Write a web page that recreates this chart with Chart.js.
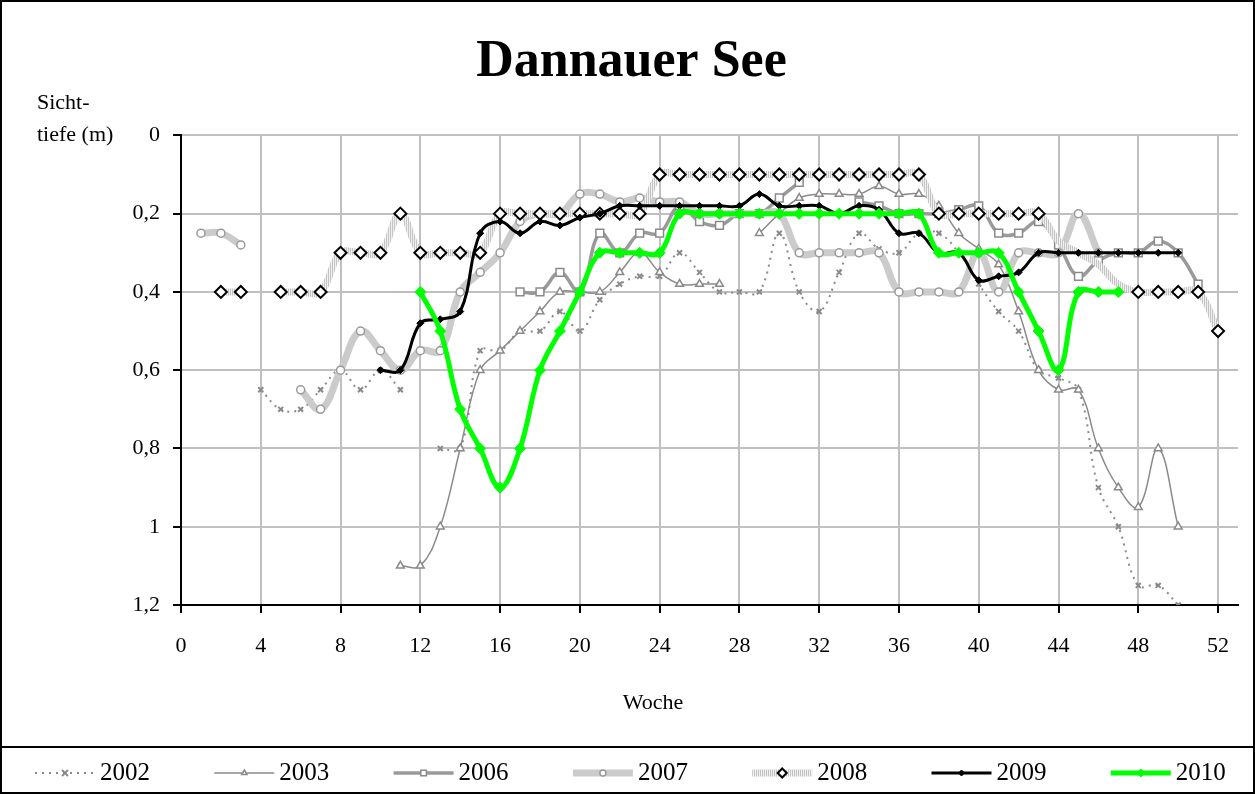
<!DOCTYPE html>
<html>
<head>
<meta charset="utf-8">
<title>Dannauer See</title>
<script src="https://cdn.jsdelivr.net/npm/chart.js@4"></script>
<style>
  html, body { margin: 0; padding: 0; background: #fff; }
</style>
</head>
<body>
<canvas id="chart" width="1255" height="794"></canvas>
<script>
// Sichttiefe (m) per calendar week, index 0 = week 1, null = no measurement
var weeks = Array.from({ length: 52 }, function (_, i) { return i + 1; });
var years = ['2002', '2003', '2006', '2007', '2008', '2009', '2010'];

var d2002 = [null, null, null, 0.65, 0.7, 0.7, 0.65, 0.6, 0.65, 0.6,
             0.65, null, 0.8, 0.8, 0.55, 0.55, 0.5, 0.5, 0.45, 0.5,
             0.42, 0.38, 0.36, 0.36, 0.3, 0.35, 0.4, 0.4, 0.4, 0.25,
             0.4, 0.45, 0.35, 0.25, 0.29, 0.3, 0.25, 0.25, 0.3, 0.38,
             0.45, 0.5, 0.6, 0.62, 0.65, 0.9, 1.0, 1.15, 1.15, 1.2,
             null, null];
var d2003 = [null, null, null, null, null, null, null, null, null, null,
             1.1, 1.1, 1.0, 0.8, 0.6, 0.55, 0.5, 0.45, 0.4, 0.4,
             0.4, 0.35, 0.3, 0.35, 0.38, 0.38, 0.38, null, 0.25, 0.2,
             0.16, 0.15, 0.15, 0.15, 0.13, 0.15, 0.15, 0.18, 0.25, 0.29,
             0.33, 0.45, 0.6, 0.65, 0.65, 0.8, 0.9, 0.95, 0.8, 1.0,
             null, null];
var d2006 = [null, null, null, null, null, null, null, null, null, null,
             null, null, null, null, null, null, 0.4, 0.4, 0.35, 0.4,
             0.25, 0.3, 0.25, 0.25, 0.18, 0.22, 0.23, 0.2, 0.2, 0.16,
             0.12, null, null, 0.17, 0.18, 0.2, 0.2, 0.2, 0.19, 0.18,
             0.25, 0.25, 0.22, 0.28, 0.36, 0.32, 0.3, 0.3, 0.27, 0.3,
             0.38, null];
var d2007 = [0.25, 0.25, 0.28, null, null, 0.65, 0.7, 0.6, 0.5, 0.55,
             0.6, 0.55, 0.55, 0.4, 0.35, 0.3, 0.22, 0.2, 0.2, 0.15,
             0.15, 0.17, 0.16, 0.17, 0.17, 0.2, 0.2, 0.2, 0.2, 0.2,
             0.3, 0.3, 0.3, 0.3, 0.3, 0.4, 0.4, 0.4, 0.4, 0.3,
             0.4, 0.3, 0.3, 0.3, 0.2, 0.3, null, null, null, null,
             null, null];
var d2008 = [null, 0.4, 0.4, null, 0.4, 0.4, 0.4, 0.3, 0.3, 0.3,
             0.2, 0.3, 0.3, 0.3, 0.3, 0.2, 0.2, 0.2, 0.2, 0.2,
             0.2, 0.2, 0.2, 0.1, 0.1, 0.1, 0.1, 0.1, 0.1, 0.1,
             0.1, 0.1, 0.1, 0.1, 0.1, 0.1, 0.1, 0.2, 0.2, 0.2,
             0.2, 0.2, 0.2, 0.27, 0.3, 0.33, 0.38, 0.4, 0.4, 0.4,
             0.4, 0.5];
var d2009 = [null, null, null, null, null, null, null, null, null, 0.6,
             0.6, 0.48, 0.47, 0.45, 0.25, 0.22, 0.25, 0.22, 0.23, 0.21,
             0.2, 0.18, 0.18, 0.18, 0.18, 0.18, 0.18, 0.18, 0.15, 0.18,
             0.18, 0.18, 0.2, 0.18, 0.19, 0.25, 0.25, 0.3, 0.3, 0.37,
             0.36, 0.35, 0.3, 0.3, 0.3, 0.3, 0.3, 0.3, 0.3, 0.3,
             null, null];
var d2010 = [null, null, null, null, null, null, null, null, null, null,
             null, 0.4, 0.5, 0.7, 0.8, 0.9, 0.8, 0.6, 0.5, 0.4,
             0.3, 0.3, 0.3, 0.3, 0.2, 0.2, 0.2, 0.2, 0.2, 0.2,
             0.2, 0.2, 0.2, 0.2, 0.2, 0.2, 0.2, 0.3, 0.3, 0.3,
             0.3, 0.4, 0.5, 0.6, 0.4, 0.4, 0.4, null, null, null,
             null, null];
// weeks of 2008 that are only bridged by the line, no marker shown
var unmarked2008 = [44, 45, 46, 47];

var weekTicks = [0, 4, 8, 12, 16, 20, 24, 28, 32, 36, 40, 44, 48, 52];
var depthTicks = [0, 0.2, 0.4, 0.6, 0.8, 1, 1.2];
var depthLabels = ['0', '0,2', '0,4', '0,6', '0,8', '1', '1,2'];

var serif = '"Liberation Serif", "Times New Roman", serif';

function points(values) {
	return values.map(function (v, i) { return { x: weeks[i], y: v }; });
}

// light grey line with fine vertical stripes (2008)
function hatchPattern() {
	var c = document.createElement('canvas');
	c.width = 2; c.height = 2;
	var g = c.getContext('2d');
	g.fillStyle = '#f0f0f0'; g.fillRect(0, 0, 2, 2);
	g.fillStyle = '#c4c4c4'; g.fillRect(0, 0, 1, 2);
	return g.createPattern(c, 'repeat');
}
var hatch = hatchPattern();

var series = [d2002, d2003, d2006, d2007, d2008, d2009, d2010];
var styles = [
	{ color: '#8a8a8a', width: 2, dash: [2, 5], marker: 'crossRot', radius: 3.5, fill: '#8a8a8a', edge: '#8a8a8a', edgeWidth: 2 },
	{ color: '#8a8a8a', width: 1.5, dash: [], marker: 'triangle', radius: 4.5, fill: '#ffffff', edge: '#8a8a8a', edgeWidth: 1.5 },
	{ color: '#9a9a9a', width: 3.5, dash: [], marker: 'rect', radius: 5.5, fill: '#ffffff', edge: '#8a8a8a', edgeWidth: 1.5 },
	{ color: '#cbcbcb', width: 7, dash: [], marker: 'circle', radius: 4, fill: '#ffffff', edge: '#9a9a9a', edgeWidth: 1.5 },
	{ color: hatch, width: 7, dash: [], marker: 'rectRot', radius: 6, fill: '#ffffff', edge: '#000000', edgeWidth: 2 },
	{ color: '#000000', width: 3, dash: [], marker: 'rectRot', radius: 3.5, fill: '#000000', edge: '#000000', edgeWidth: 1 },
	{ color: '#00ff00', width: 5, dash: [], marker: 'rectRot', radius: 5.5, fill: '#00ff00', edge: '#00ff00', edgeWidth: 1 }
];

var datasets = series.map(function (values, i) {
	var s = styles[i];
	return {
		label: years[i],
		data: points(values),
		borderColor: s.color,
		borderWidth: s.width,
		borderDash: s.dash,
		pointStyle: s.marker,
		pointRadius: function (c) {
			if (years[i] === '2008' && c.raw && unmarked2008.indexOf(c.raw.x) >= 0) return 0;
			return s.radius;
		},
		pointBackgroundColor: s.fill,
		pointBorderColor: s.edge,
		pointBorderWidth: s.edgeWidth,
		tension: 0.4,
		spanGaps: false,
		fill: false,
		order: years.length - i
	};
});

function drawMarker(c, s, x, y, r) {
	c.save();
	c.fillStyle = s.fill;
	c.strokeStyle = s.edge;
	c.lineWidth = s.edgeWidth;
	c.setLineDash([]);
	c.beginPath();
	if (s.marker === 'crossRot') {
		c.moveTo(x - r, y - r); c.lineTo(x + r, y + r);
		c.moveTo(x - r, y + r); c.lineTo(x + r, y - r);
		c.stroke();
	} else {
		if (s.marker === 'circle') {
			c.arc(x, y, r, 0, Math.PI * 2);
		} else if (s.marker === 'triangle') {
			c.moveTo(x, y - r); c.lineTo(x + r * 0.87, y + r * 0.5); c.lineTo(x - r * 0.87, y + r * 0.5);
		} else if (s.marker === 'rect') {
			c.rect(x - r * 0.7, y - r * 0.7, r * 1.4, r * 1.4);
		} else {
			c.moveTo(x, y - r); c.lineTo(x + r, y); c.lineTo(x, y + r); c.lineTo(x - r, y);
		}
		c.closePath();
		c.fill();
		c.stroke();
	}
	c.restore();
}

// white background, outer frame, axis captions and legend row
var framePlugin = {
	id: 'frame',
	beforeDraw: function (chart) {
		var c = chart.ctx;
		c.save();
		c.fillStyle = '#ffffff';
		c.fillRect(0, 0, chart.width, chart.height);
		c.restore();
	},
	afterDraw: function (chart) {
		var c = chart.ctx;
		var area = chart.chartArea;
		c.save();
		c.strokeStyle = '#000';
		c.lineWidth = 2;
		c.strokeRect(1, 1, chart.width - 2, chart.height - 2);
		c.beginPath();
		c.moveTo(0, 747); c.lineTo(chart.width, 747);
		c.stroke();

		c.fillStyle = '#000';
		c.font = '22px ' + serif;
		c.textBaseline = 'middle';
		c.textAlign = 'left';
		c.fillText('Sicht-', 37, area.top - 32);
		c.fillText('tiefe (m)', 37, area.top);

		// x axis caption sits a bit left of the plot centre, as in the original
		c.textAlign = 'center';
		c.fillText('Woche', 653, area.bottom + 98);
		c.textAlign = 'left';

		// legend
		var ly = 773;
		for (var i = 0; i < years.length; i++) {
			var s = styles[i];
			var x0 = 35 + i * 179.3;
			c.save();
			c.strokeStyle = s.color;
			c.lineWidth = s.width;
			c.setLineDash(s.dash);
			c.beginPath();
			c.moveTo(x0, ly); c.lineTo(x0 + 60, ly);
			c.stroke();
			c.restore();
			drawMarker(c, s, x0 + 30, ly, Math.max(3, s.radius - 1.5));
			c.fillStyle = '#000';
			c.font = '25px ' + serif;
			c.textBaseline = 'middle';
			c.fillText(years[i], x0 + 65, ly);
		}
		c.restore();
	}
};

var chart = new Chart(document.getElementById('chart'), {
	type: 'line',
	data: { datasets: datasets },
	plugins: [framePlugin],
	options: {
		responsive: false,
		animation: false,
		events: [],
		layout: { padding: { top: 31, left: 25, right: 17, bottom: 69 } },
		plugins: {
			legend: { display: false },
			tooltip: { enabled: false },
			title: {
				display: true,
				text: 'Dannauer See',
				color: '#000',
				font: { family: serif, size: 52, weight: 'bold' },
				padding: { top: 0, bottom: 42 }
			}
		},
		scales: {
			x: {
				type: 'linear',
				min: 0,
				max: 53,
				afterFit: function (s) { s.height = 120; },
				afterBuildTicks: function (s) {
					s.ticks = weekTicks.map(function (v) { return { value: v }; });
				},
				ticks: {
					color: '#000',
					font: { family: serif, size: 22 },
					padding: 20,
					maxRotation: 0,
					autoSkip: false,
					callback: function (v) { return String(v); }
				},
				grid: { color: '#c0c0c0', lineWidth: 2, tickLength: 8, tickColor: '#000', tickWidth: 2 },
				border: { color: '#000', width: 2 },
				title: { display: false }
			},
			y: {
				reverse: true,
				min: 0,
				max: 1.2,
				afterFit: function (s) { s.width = 156; },
				afterBuildTicks: function (s) {
					s.ticks = depthTicks.map(function (v) { return { value: v }; });
				},
				ticks: {
					color: '#000',
					font: { family: serif, size: 22 },
					padding: 13,
					autoSkip: false,
					callback: function (v) { return depthLabels[depthTicks.indexOf(v)]; }
				},
				grid: { color: '#c0c0c0', lineWidth: 2, tickLength: 8, tickColor: '#000', tickWidth: 2 },
				border: { color: '#000', width: 2 }
			}
		}
	}
});
</script>
</body>
</html>
